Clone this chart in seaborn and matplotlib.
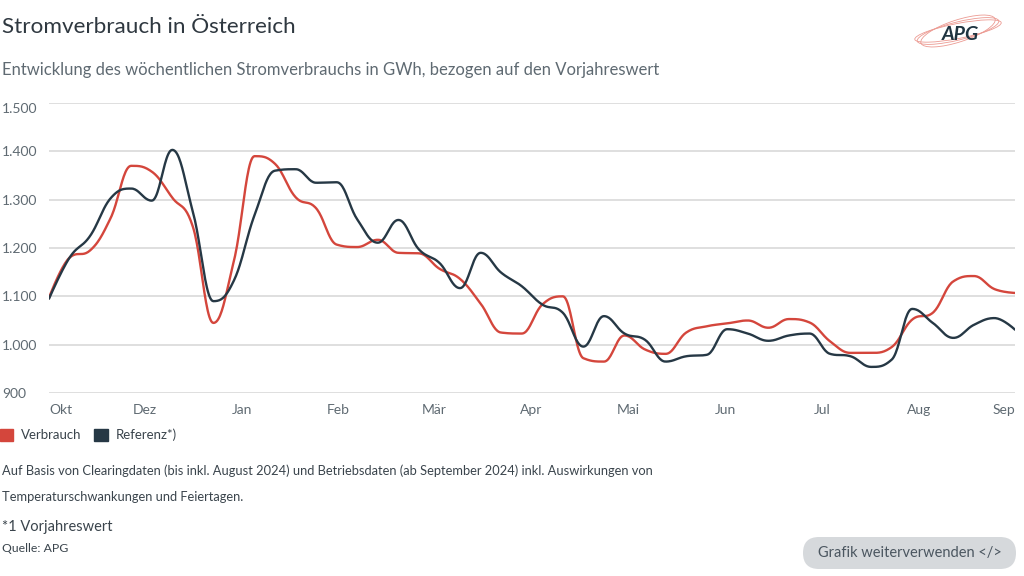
import numpy as np
import pandas as pd
import matplotlib
matplotlib.use("Agg")
import matplotlib.pyplot as plt
import matplotlib.patches as mpatches
from matplotlib.ticker import FuncFormatter
import seaborn as sns

# Wochenwerte in GWh
verbrauch = [1097, 1180, 1195, 1262, 1370, 1358, 1304, 1244, 1045, 1174, 1390, 1374,
             1305, 1282, 1207, 1202, 1217, 1190, 1189, 1157, 1136, 1085, 1025, 1023,
             1083, 1100, 972, 965, 1019, 990, 981, 1025, 1038, 1044, 1050, 1035,
             1053, 1046, 1007, 983, 983, 995, 1052, 1066, 1131, 1142, 1115, 1107]
referenz = [1095, 1180, 1225, 1303, 1323, 1298, 1403, 1275, 1090, 1133, 1268, 1360,
            1363, 1335, 1336, 1259, 1211, 1258, 1197, 1169, 1117, 1190, 1149, 1121,
            1083, 1066, 996, 1059, 1023, 1010, 965, 976, 979, 1032, 1023, 1008,
            1019, 1023, 981, 976, 954, 969, 1074, 1045, 1014, 1041, 1055, 1031]
woche = list(range(len(verbrauch)))

monate = ["Okt", "Dez", "Jan", "Feb", "Mär", "Apr", "Mai", "Jun", "Jul", "Aug", "Sep"]
monat_pos = [0, 4.68, 9.40, 14.08, 18.75, 23.48, 28.2, 32.93, 37.6, 42.33, 47]
y_ticks = [900, 1000, 1100, 1200, 1300, 1400, 1500]

RED = "#d4463c"
NAVY = "#263845"
GRID = "#d9d9d9"
TXT = "#5f6a72"


def spline(xv, yv, smoothing=1.5, n=24):
    # spline like Highcharts draws it (bezier with smoothed control points)
    x = np.asarray(xv, float)
    y = np.asarray(yv, float)
    N = len(x)
    left = np.column_stack([x, y]).copy()
    right = left.copy()
    d = smoothing + 1
    for i in range(1, N - 1):
        lx = (smoothing * x[i] + x[i - 1]) / d
        ly = (smoothing * y[i] + y[i - 1]) / d
        rx = (smoothing * x[i] + x[i + 1]) / d
        ry = (smoothing * y[i] + y[i + 1]) / d
        corr = (ry - ly) * (rx - x[i]) / (rx - lx) + y[i] - ry
        ly += corr
        ry += corr
        if ly > y[i - 1] and ly > y[i]:
            ly = max(y[i - 1], y[i]); ry = 2 * y[i] - ly
        elif ly < y[i - 1] and ly < y[i]:
            ly = min(y[i - 1], y[i]); ry = 2 * y[i] - ly
        if ry > y[i + 1] and ry > y[i]:
            ry = max(y[i + 1], y[i]); ly = 2 * y[i] - ry
        elif ry < y[i + 1] and ry < y[i]:
            ry = min(y[i + 1], y[i]); ly = 2 * y[i] - ry
        left[i] = (lx, ly)
        right[i] = (rx, ry)
    t = np.linspace(0, 1, n)[:, None]
    pts = [np.array([[x[0], y[0]]])]
    for i in range(1, N):
        p0 = np.array([x[i - 1], y[i - 1]])
        p3 = np.array([x[i], y[i]])
        p1, p2 = right[i - 1], left[i]
        b = ((1 - t) ** 3) * p0 + 3 * ((1 - t) ** 2) * t * p1 + 3 * (1 - t) * t ** 2 * p2 + t ** 3 * p3
        pts.append(b[1:])
    pts = np.vstack(pts)
    return pts[:, 0], pts[:, 1]


frames = []
for name, vals in [("Verbrauch", verbrauch), ("Referenz*)", referenz)]:
    xs, ys = spline(woche, vals)
    frames.append(pd.DataFrame({"woche": xs, "gwh": ys, "serie": name}))
df = pd.concat(frames, ignore_index=True)

sns.set_theme(style="white")
plt.rcParams["font.family"] = ["Lato", "DejaVu Sans"]

fig = plt.figure(figsize=(10.24, 5.76), dpi=100)
ax = fig.add_axes([49 / 1024, 1 - 393 / 576, 966 / 1024, 290 / 576])

sns.lineplot(data=df, x="woche", y="gwh", hue="serie", palette={"Verbrauch": RED, "Referenz*)": NAVY},
             estimator=None, sort=False, legend=False, linewidth=1.7, ax=ax)

ax.set_xlim(0, len(woche) - 1)
ax.set_ylim(900, 1500)
ax.set_yticks(y_ticks)
ax.yaxis.set_major_formatter(FuncFormatter(lambda v, p: f"{v:,.0f}".replace(",", ".")))
ax.set_xticks(monat_pos)
ax.set_xticklabels(monate)
ax.grid(axis="y", color=GRID, linewidth=1.2)
ax.set_axisbelow(True)
for s in ax.spines.values():
    s.set_visible(False)
ax.set_xlabel("")
ax.set_ylabel("")
ax.tick_params(axis="both", length=0, labelsize=10, labelcolor=TXT)
ax.tick_params(axis="x", pad=8)
ax.tick_params(axis="y", pad=34)
for lab in ax.get_yticklabels():
    lab.set_horizontalalignment("left")
ax.get_yticklabels()[-1].set_verticalalignment("top")
xl = ax.get_xticklabels()
xl[0].set_horizontalalignment("left")
xl[-1].set_horizontalalignment("right")

# overlay in pixel coordinates for texts
ov = fig.add_axes([0, 0, 1, 1])
ov.set_xlim(0, 1024)
ov.set_ylim(576, 0)
ov.axis("off")
ov.patch.set_visible(False)

ov.text(2, 27, "Stromverbrauch in Österreich", fontsize=16.2, color="#2f3840", va="center")
ov.text(2, 70, "Entwicklung des wöchentlichen Stromverbrauchs in GWh, bezogen auf den Vorjahreswert",
        fontsize=12, color=TXT, va="center")

# logo
for w, h, a in [(84, 18, 14), (78, 22, 18), (88, 15, 11)]:
    ov.add_patch(mpatches.Ellipse((958, 31), w, h, angle=-a, fill=False, ec="#ec9a92", lw=0.6))
ov.text(960, 34, "APG", fontsize=14, fontweight="bold", fontstyle="italic", color="#1f3440",
        ha="center", va="center")

# legend
handles = [mpatches.Patch(color=RED, label="Verbrauch"), mpatches.Patch(color=NAVY, label="Referenz*)")]
fig.legend(handles=handles, loc="center left", bbox_to_anchor=(-0.012, 1 - 435 / 576), ncol=2,
           frameon=False, fontsize=9.5, handlelength=1.0, handleheight=1.0, handletextpad=0.6,
           columnspacing=1.0, labelcolor="#3a444c")

ov.text(2, 471, "Auf Basis von Clearingdaten (bis inkl. August 2024) und Betriebsdaten (ab September 2024) inkl. Auswirkungen von",
        fontsize=9.3, color="#3a444c", va="center")
ov.text(2, 497, "Temperaturschwankungen und Feiertagen.", fontsize=9.3, color="#3a444c", va="center")
ov.text(2, 527, "*1 Vorjahreswert", fontsize=10.5, color="#3a444c", va="center")
ov.text(2, 549, "Quelle: APG", fontsize=8.8, color="#3a444c", va="center")

ov.add_patch(mpatches.FancyBboxPatch((803, 537), 213, 32, boxstyle="round,pad=0,rounding_size=16",
                                     fc="#d6d9dc", ec="none"))
ov.text(910, 553, "Grafik weiterverwenden </>", fontsize=10.5, color="#4b5660", ha="center", va="center")

fig.savefig("out.png", dpi=100, facecolor="white")
